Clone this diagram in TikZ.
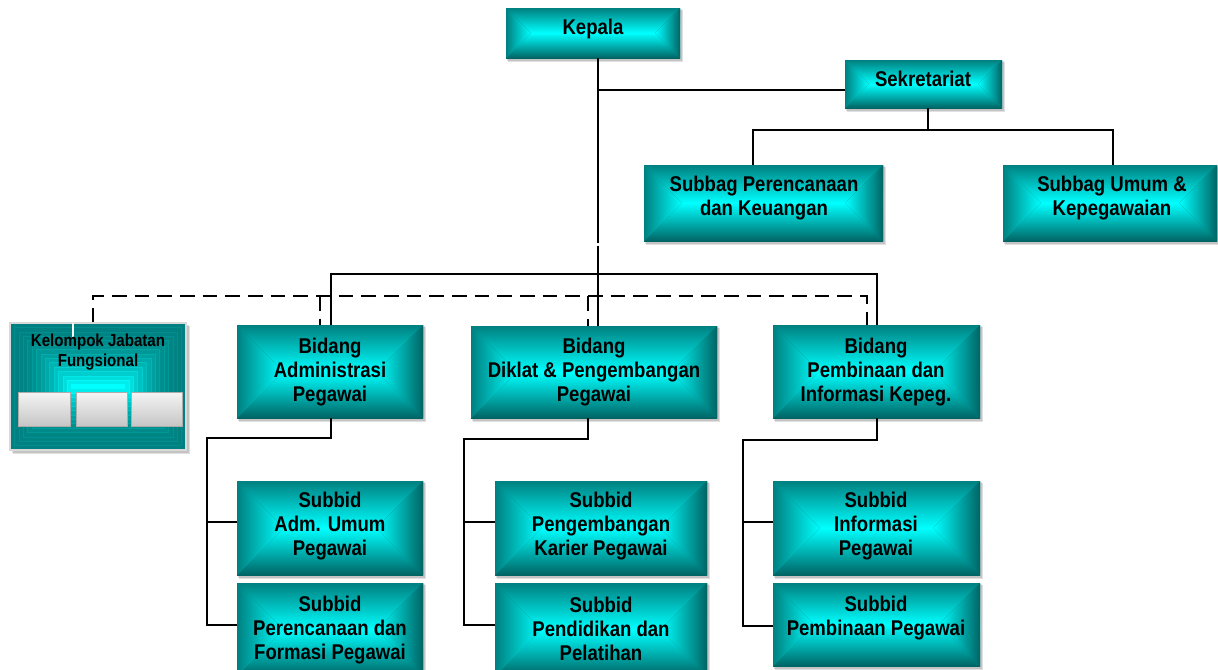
\documentclass[tikz,border=0pt]{standalone}
\usepackage{fontspec}
\newfontfamily\orgfont[FakeStretch=0.87]{Liberation Sans}
\usetikzlibrary{calc}
\definecolor{tealE}{RGB}{0,128,128}
\definecolor{tealD}{RGB}{0,100,100}
\definecolor{cyanC}{RGB}{0,255,255}
\tikzset{
  bevel/.style={path picture={
    \path let \p1=(path picture bounding box.south west),
              \p2=(path picture bounding box.north east),
              \n1={0.5*(\y2-\y1)} in
      coordinate (bvsw) at (\x1,\y1) coordinate (bvse) at (\x2,\y1)
      coordinate (bvnw) at (\x1,\y2) coordinate (bvne) at (\x2,\y2)
      coordinate (bvw) at (\x1,{\y1+\n1}) coordinate (bve) at (\x2,{\y1+\n1})
      coordinate (bvcl) at ({\x1+\n1},{\y1+\n1})
      coordinate (bvcr) at ({\x2-\n1},{\y1+\n1});
    \fill[top color=tealE, bottom color=cyanC] (bvnw) -- (bvne) -- (bve) -- (bvw) -- cycle;
    \fill[top color=cyanC, bottom color=tealD] (bvw) -- (bve) -- (bvse) -- (bvsw) -- cycle;
    \fill[left color=tealE, right color=cyanC] (bvnw) -- (bvcl) -- (bvsw) -- cycle;
    \fill[left color=cyanC, right color=tealD] (bvne) -- (bvcr) -- (bvse) -- cycle;
  }},
  box/.style={rectangle, inner sep=0pt, fill=tealE, bevel},
  lbl/.style={font=\orgfont\bfseries\fontsize{16}{18}\selectfont, align=center, inner sep=0pt, text=black},
  slbl/.style={font=\orgfont\bfseries\fontsize{13}{15}\selectfont, align=center, inner sep=0pt, text=black},
  greybox/.style={rectangle, inner sep=0pt, top color=gray!8, bottom color=gray!45, draw=gray!65, line width=0.4pt},
  conn/.style={line width=1.6pt, black},
  dconn/.style={line width=1.6pt, black, dash pattern=on 11pt off 6pt},
  shade/.style={fill=black, opacity=0.12}
}
\newcommand\orgbox[5]{%
  \fill[shade] ({#2+1},{#3+1}) rectangle ({#4+2},{#5+3});
  \fill[shade] ({#2+2},{#3+2}) rectangle ({#4+3},{#5+4});
  \node[box, minimum width={(#4-#2)*0.75pt}, minimum height={(#5-#3)*0.75pt}] (#1) at ({(#2+#4)/2},{(#3+#5)/2}) {};}
\begin{document}
\begin{tikzpicture}[x=0.75pt,y=-0.75pt]
\useasboundingbox (0,0) rectangle (1218,669);
\clip (0,0) rectangle (1218,669);
\fill[white] (0,0) rectangle (1218,669);

% boxes
\orgbox{kepala}{506}{8}{680}{58}
\orgbox{sek}{845}{60}{1002}{108}
\orgbox{sbp}{644}{165}{883}{241}
\orgbox{sbu}{1003}{165}{1217}{241}
\orgbox{badm}{237}{325}{423}{418}
\orgbox{bdik}{471}{326}{717}{418}
\orgbox{bpem}{773}{325}{980}{418}
\orgbox{sa1}{237}{481}{423}{575}
\orgbox{sa2}{237}{583}{423}{676}
\orgbox{sd1}{495}{481}{707}{575}
\orgbox{sd2}{495}{583}{707}{676}
\orgbox{sp1}{773}{481}{980}{575}
\orgbox{sp2}{773}{583}{980}{666}

% Kelompok Jabatan Fungsional
\fill[shade] (12,325) rectangle (189,453);
\fill[shade] (13,326) rectangle (190,454);
\node[rectangle, inner sep=0pt, fill=tealE, draw=gray!30, line width=0.8pt,
      minimum width={176*0.75pt}, minimum height={127*0.75pt}] (kjf) at (98,386.5) {};
\foreach \i in {1,...,14} {
  \pgfmathtruncatemacro\pc{100*(\i/14)^2}
  \pgfmathtruncatemacro\pl{min(100,\pc+10)}
  \fill[cyanC!\pc!tealE, draw=cyanC!\pl!tealE, line width=0.4pt]
    ({10+\i*4.4},{323+\i*4.4}) rectangle ({186-\i*4.4},{450-\i*4.4});
}
\draw[white, line width=1pt] (73,323) -- (73,338);
\node[slbl] (kjft) at (98,352) {Kelompok Jabatan\\Fungsional};
\node[greybox, minimum width={52*0.75pt}, minimum height={34*0.75pt}] (g1) at (44,409) {};
\node[greybox, minimum width={51*0.75pt}, minimum height={34*0.75pt}] (g2) at (101.5,409) {};
\node[greybox, minimum width={51*0.75pt}, minimum height={34*0.75pt}] (g3) at (157,409) {};

% labels
\node[lbl] (t-kepala) at (593,29) {Kepala};
\node[lbl] (t-sek) at (923,79) {Sekretariat};
\node[lbl] (t-sbp) at (764,198) {Subbag Perencanaan\\dan Keuangan};
\node[lbl] (t-sbu) at (1112,198) {Subbag Umum \&\\Kepegawaian};
\node[lbl] (t-badm) at (330,372) {Bidang\\Administrasi\\Pegawai};
\node[lbl] (t-bdik) at (594,372) {Bidang\\Diklat \& Pengembangan\\Pegawai};
\node[lbl] (t-bpem) at (876,372) {Bidang\\Pembinaan dan\\Informasi Kepeg.};
\node[lbl] (t-sa1) at (330,526) {Subbid\\Adm. Umum\\Pegawai};
\node[lbl] (t-sa2) at (330,630) {Subbid\\Perencanaan dan\\Formasi Pegawai};
\node[lbl] (t-sd1) at (601,526) {Subbid\\Pengembangan\\Karier Pegawai};
\node[lbl] (t-sd2) at (601,629) {Subbid\\Pendidikan dan\\Pelatihan};
\node[lbl] (t-sp1) at (876,526) {Subbid\\Informasi\\Pegawai};
\node[lbl] (t-sp2) at (876,618) {Subbid\\Pembinaan Pegawai};

% junction coordinates
\coordinate (jS) at (598,90);
\coordinate (gapT) at (598,243);
\coordinate (gapB) at (598,245.5);
\coordinate (sB) at (928,130);
\coordinate (sL) at (753,130);
\coordinate (sR) at (1113,130);
\coordinate (bL) at (331,274);
\coordinate (bR) at (877,274);
\coordinate (dA) at (93,296);
\coordinate (dB) at (320,296);
\coordinate (dC) at (588,296);
\coordinate (dD) at (867,296);
\coordinate (a1) at (331,438);
\coordinate (a2) at (207,438);
\coordinate (a3) at (207,522);
\coordinate (a4) at (207,625);
\coordinate (d1) at (588,439);
\coordinate (d2) at (464,439);
\coordinate (d3) at (464,522);
\coordinate (d4) at (464,625);
\coordinate (p1) at (877,440);
\coordinate (p2) at (743,440);
\coordinate (p3) at (743,522);
\coordinate (p4) at (743,626);

% connectors
\draw[conn] (gapT |- kepala.south) -- (gapT);
\draw[conn] (gapB) -- (gapB |- bdik.north);
\draw[conn] (jS) -- (jS -| sek.west);
\draw[conn] (sB |- sek.south) -- (sB);
\draw[conn] (sL |- sbp.north) -- (sL) -- (sR) -- (sR |- sbu.north);
\draw[conn] (bL |- badm.north) -- (bL) -- (bR) -- (bR |- bpem.north);
\draw[dconn] (dA |- kjf.north) -- (dA) -- (dD) -- (dD |- bpem.north);
\draw[dconn] (dB) -- (dB |- badm.north);
\draw[dconn] (dC) -- (dC |- bdik.north);
\draw[conn] (a1 |- badm.south) -- (a1) -- (a2) -- (a4) -- (a4 -| sa2.west);
\draw[conn] (a3) -- (a3 -| sa1.west);
\draw[conn] (d1 |- bdik.south) -- (d1) -- (d2) -- (d4) -- (d4 -| sd2.west);
\draw[conn] (d3) -- (d3 -| sd1.west);
\draw[conn] (p1 |- bpem.south) -- (p1) -- (p2) -- (p4) -- (p4 -| sp2.west);
\draw[conn] (p3) -- (p3 -| sp1.west);
\end{tikzpicture}
\end{document}
